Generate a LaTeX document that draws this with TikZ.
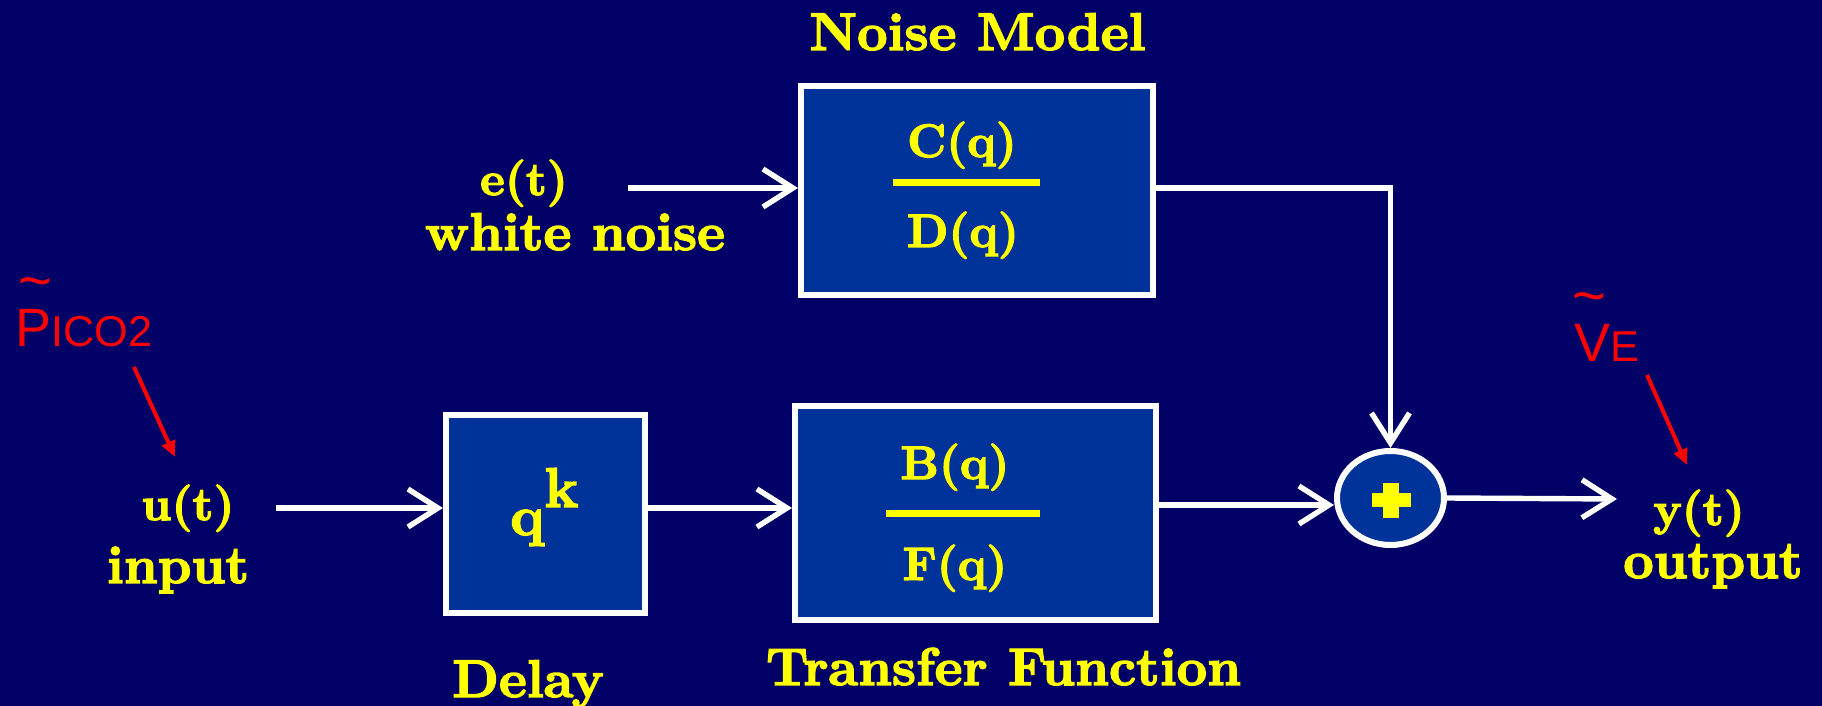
\documentclass[tikz,border=0pt]{standalone}
\usepackage{fontspec}
\usetikzlibrary{arrows.meta,shapes.geometric}
\newfontfamily\heavy{lmroman10-bold.otf}[FakeBold=2.6]
\newfontfamily\redsans{Liberation Sans}
\definecolor{bgnavy}{RGB}{0,0,102}
\definecolor{boxblue}{RGB}{0,51,153}
\definecolor{ylw}{RGB}{255,255,0}
\definecolor{redtxt}{RGB}{255,0,0}
\newcommand{\redtilde}[1]{\rlap{\kern#1\raisebox{23pt}{\fontsize{29}{29}\selectfont\textasciitilde}}}
\tikzset{
 blk/.style={draw=white, line width=3pt, fill=boxblue, inner sep=0pt},
 flow/.style={draw=white, line width=2.7pt, -{Straight Barb[length=15pt,width=19pt]}},
 word/.style={text=ylw, font=\heavy\fontsize{26.5}{30}\selectfont, inner sep=0pt, anchor=base},
 fn/.style={text=ylw, font=\heavy\fontsize{23.5}{26}\selectfont, inner sep=0pt, anchor=base},
 redlbl/.style={text=redtxt, font=\redsans, inner sep=0pt, anchor=base west},
 redarr/.style={draw=redtxt, line width=2pt, -{Triangle[length=8pt,width=7pt]}},
 fracbar/.style={draw=ylw, line width=3.5pt},
}
\begin{document}
\begin{tikzpicture}[x=0.5pt,y=-0.5pt]
\fill[bgnavy] (0,0) rectangle (1822,706);
\useasboundingbox (0,0) rectangle (1822,706);

% blocks
\node[blk, minimum width=176pt, minimum height=104.5pt] (noise) at (977,190.5) {};
\node[blk, minimum width=180.5pt, minimum height=107pt] (tf) at (975.5,513) {};
\node[blk, minimum width=99.5pt, minimum height=99pt] (delay) at (545.5,514) {};
\node[draw=white, line width=3pt, fill=boxblue, ellipse, inner sep=0pt,
      minimum width=53.5pt, minimum height=47pt] (sum) at (1390.5,498) {};
\fill[ylw] (1371.5,493) rectangle (1410.5,507);
\fill[ylw] (1383,482.5) rectangle (1399,517.5);

% fraction bars
\draw[fracbar] (893,183) -- (1040,183);
\draw[fracbar] (886,513) -- (1040,513);

% texts
\node[word] (nm) at (977.5,50) {Noise Model};
\node[fn] (cq) at (962,157) {C(q)};
\node[fn] (dq) at (963,247) {D(q)};
\node[fn] (bq) at (955,479) {B(q)};
\node[fn] (fq) at (955,580) {F(q)};
\node[word] (tfl) at (1003.5,685) {Transfer Function};
\node[word] (dl) at (528,697) {Delay};
\node[fn] (et) at (524,195) {e(t)};
\node[word] (wn) at (575,250) {white noise};
\node[fn] (ut) at (188,520) {u(t)};
\node[word] (inp) at (178,583) {input};
\node[fn] (yt) at (1699,525) {y(t)};
\node[word] (outp) at (1713,578) {output};
\node[text=ylw, font=\heavy\fontsize{28}{30}\selectfont, inner sep=0pt, anchor=base west] (q) at (510,535) {q};
\node[text=ylw, font=\heavy\fontsize{28}{30}\selectfont, inner sep=0pt, anchor=base west] (k) at (544,507) {k};

% red labels
\node[redlbl] (pico) at (15,346) {\redtilde{1.5pt}{\fontsize{27}{30}\selectfont P}{\fontsize{21.6}{26}\selectfont ICO2}};
\node[redlbl] (ve) at (1574,361) {\redtilde{-1pt}{\fontsize{27}{30}\selectfont V}{\fontsize{21.6}{26}\selectfont E}};
\coordinate (pa) at (134,367);
\coordinate (pb) at (175,457);
\coordinate (va) at (1647,375);
\coordinate (vb) at (1687,465);
\draw[redarr] (pa) -- (pb);
\draw[redarr] (va) -- (vb);

% connectors
\coordinate (eS) at (628,188);
\coordinate (uS) at (276,508);
\coordinate (tfrow) at (0,505);
\coordinate (yE) at (1617,499);
\draw[flow] (eS) -- (eS -| noise.west);
\draw[flow] (uS) -- (uS -| delay.west);
\draw[flow] (uS -| delay.east) -- (uS -| tf.west);
\draw[flow] (tfrow -| tf.east) -- (tfrow -| sum.west);
\draw[flow] (eS -| noise.east) -| (sum.north);
\draw[flow] (sum.east) -- (yE);
\end{tikzpicture}
\end{document}
